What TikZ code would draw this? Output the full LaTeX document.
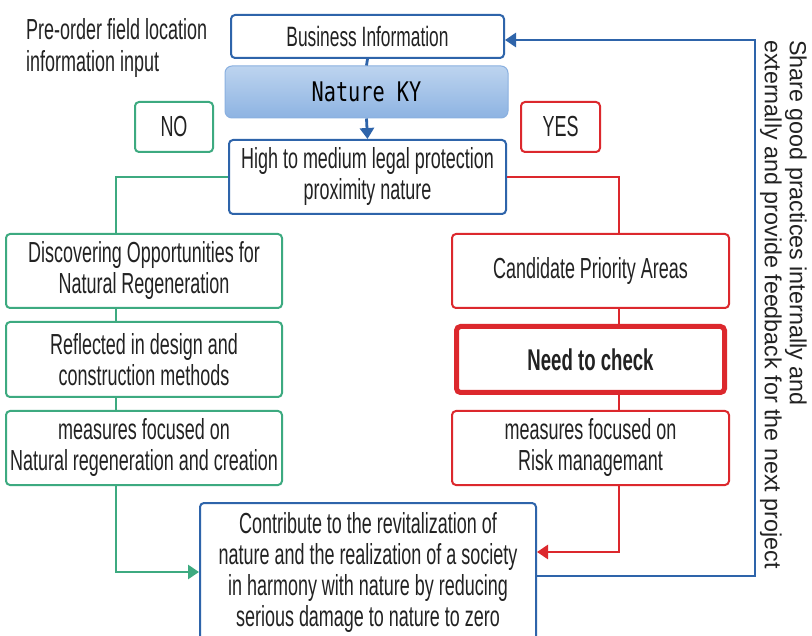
\documentclass[tikz,border=0pt]{standalone}
\usepackage{fontspec}
\setmainfont{Liberation Sans}
\newfontfamily\condfont[FakeStretch=0.62]{Liberation Sans}
\newfontfamily\kyfont[FakeStretch=0.75]{DejaVu Sans Mono}
\usetikzlibrary{arrows.meta}
\definecolor{cblue}{HTML}{2E64AA}
\definecolor{cgreen}{HTML}{3DAA80}
\definecolor{cred}{HTML}{DC282D}
\definecolor{ctext}{HTML}{222222}
\definecolor{kytop}{HTML}{BDD4EF}
\definecolor{kybot}{HTML}{8DB3E2}
\definecolor{kyline}{HTML}{8AB0E0}
\tikzset{
  box/.style={draw, rounded corners=4pt, line width=2pt, align=center, inner sep=0pt,
    text=ctext, font=\condfont\fontsize{29}{31}\selectfont},
  bluebox/.style={box, draw=cblue},
  greenbox/.style={box, draw=cgreen},
  redbox/.style={box, draw=cred},
  thickred/.style={box, draw=cred, line width=5pt, font=\condfont\bfseries\fontsize{30}{31}\selectfont},
  kybox/.style={draw=kyline, line width=1pt, rounded corners=7pt, top color=kytop, bottom color=kybot,
    inner sep=0pt, text=black, font=\kyfont\fontsize{27}{31}\selectfont},
  bline/.style={draw=cblue, line width=2.8pt},
  gline/.style={draw=cgreen, line width=2.8pt},
  rline/.style={draw=cred, line width=2.8pt},
  tip/.style={-{Triangle[length=11pt,width=14pt]}},
}
\begin{document}
\begin{tikzpicture}[x=1pt,y=-1pt]
\clip (0,0) rectangle (812,636);
\fill[white] (0,0) rectangle (812,636);

% top text
\node[anchor=north west, inner sep=0pt, align=left, text=ctext,
  font=\condfont\fontsize{29}{32}\selectfont] (pre) at (26,18)
  {Pre-order field location\\information input};

% top nodes
\node[bluebox, minimum width=273pt, minimum height=43pt, font=\condfont\fontsize{28}{31}\selectfont] (bi) at (367.5,36.5) {Business Information};
\node[kybox, minimum width=283pt, minimum height=52pt] (ky) at (366.5,92) {Nature KY};
\node[bluebox, minimum width=277pt, minimum height=74pt] (hi) at (367.5,177)
  {High to medium legal protection\\proximity nature};
\node[greenbox, minimum width=78pt, minimum height=50pt] (no) at (174,127) {NO};
\node[redbox, minimum width=79pt, minimum height=50pt] (yes) at (560.5,127) {YES};

% left column
\node[greenbox, minimum width=276pt, minimum height=74pt] (d1) at (144,271)
  {Discovering Opportunities for\\Natural Regeneration};
\node[greenbox, minimum width=276pt, minimum height=75pt] (d2) at (144,359.5)
  {Reflected in design and\\construction methods};
\node[greenbox, minimum width=276pt, minimum height=74pt] (d3) at (144,448)
  {measures focused on\\Natural regeneration and creation};

% right column
\node[redbox, minimum width=277pt, minimum height=74pt] (c1) at (590.5,271)
  {Candidate Priority Areas};
\node[thickred, minimum width=268pt, minimum height=66pt] (c2) at (590.5,359.5)
  {Need to check};
\node[redbox, minimum width=277pt, minimum height=74pt] (c3) at (590.5,448)
  {measures focused on\\Risk managemant};

% bottom
\node[bluebox, minimum width=336pt, minimum height=140pt] (cb) at (368,573)
  {Contribute to the revitalization of\\nature and the realization of a society\\in harmony with nature by reducing\\serious damage to nature to zero};

% feedback text
\node[rotate=-90, anchor=north west, inner sep=0pt, align=left, text=ctext,
  font=\fontsize{23.3}{25}\selectfont] (fb) at (807,40)
  {Share good practices internally and\\externally and provide feedback for the next project};

% coordinates
\coordinate (gx) at (116,0);
\coordinate (rx) at (619,0);
\coordinate (bx) at (755,0);
\coordinate (ba) at ([yshift=-3.5pt]bi.east);
\coordinate (ga) at ([yshift=1pt]cb.west);
\coordinate (ra) at ([yshift=21pt]cb.east);
\coordinate (bb) at ([yshift=-3pt]cb.east);

% connectors
\draw[bline] (bi.south) -- (ky.north);
\draw[bline, tip] (ky.south) -- (hi.north);
\draw[gline] (hi.west) -| (gx |- d1.north);
\draw[gline] (gx |- d1.south) -- (gx |- d2.north);
\draw[gline] (gx |- d2.south) -- (gx |- d3.north);
\draw[gline, tip] (gx |- d3.south) |- (ga);
\draw[rline] (hi.east) -| (rx |- c1.north);
\draw[rline] (rx |- c1.south) -- (rx |- c2.north);
\draw[rline] (rx |- c2.south) -- (rx |- c3.north);
\draw[rline, tip] (rx |- c3.south) |- (ra);
\draw[bline, tip] (bb) -| (bx |- ba) -- (ba);
\end{tikzpicture}
\end{document}
